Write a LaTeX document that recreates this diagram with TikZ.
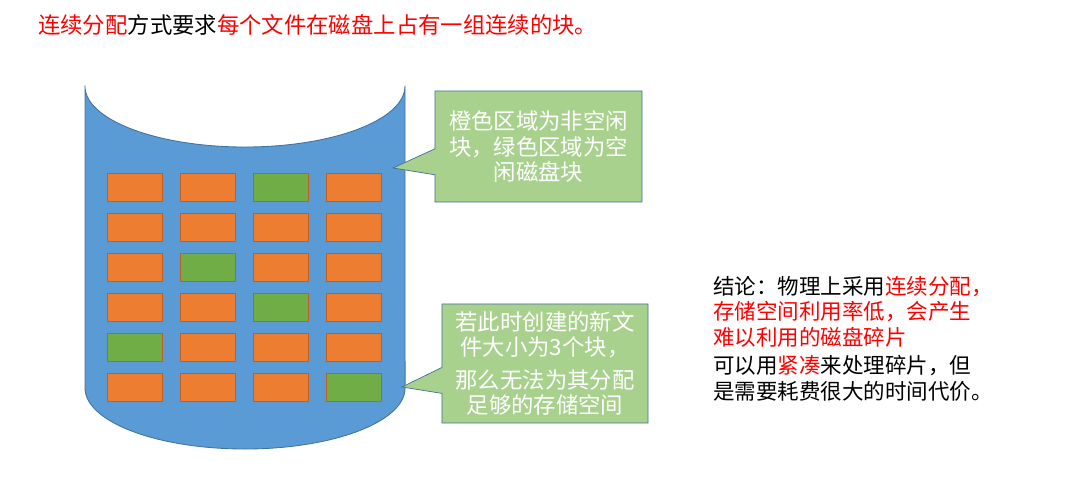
\documentclass[tikz,border=0pt]{standalone}
\usepackage{fontspec}
\setmainfont{Noto Sans CJK SC}
\usetikzlibrary{shapes.callouts}
\definecolor{diskblue}{RGB}{91,155,213}
\definecolor{diskline}{RGB}{65,113,156}
\definecolor{busyorange}{RGB}{237,125,49}
\definecolor{busyline}{RGB}{190,95,35}
\definecolor{freegreen}{RGB}{112,173,71}
\definecolor{notegreen}{RGB}{169,209,142}
\definecolor{hotred}{RGB}{255,0,0}

\tikzset{
  blko/.style={draw=busyline, fill=busyorange, line width=0.6pt, minimum width=1.375cm, minimum height=0.7cm, inner sep=0pt},
  blkg/.style={blko, fill=freegreen},
  note/.style={rectangle callout, draw=diskline, fill=notegreen, line width=0.5pt, text=white, align=center, callout pointer width=0.65cm, font=\fontsize{15.9}{18}\selectfont}
}

\begin{document}
\begin{tikzpicture}[x=0.025cm, y=-0.025cm]
            \useasboundingbox (0,0) rectangle (1081,490);

            % Title
            \node[anchor=west, inner sep=0pt, font=\fontsize{15.9}{18}\selectfont] (title) at (38,25)
              {\textcolor{hotred}{连续分配}方式要求\textcolor{hotred}{每个文件在磁盘上占有一组连续的块。}};

            % Disk
            \draw[diskline, line width=0.6pt, fill=diskblue] (85,86) -- (85,388)
              arc[start angle=180, end angle=360, x radius=4cm, y radius=1.525cm]
              -- (405,86)
              arc[start angle=0, end angle=-180, x radius=4cm, y radius=1.525cm] -- cycle;

            % Blocks
            \foreach \cells [count=\r] in {{o,o,g,o},{o,o,o,o},{o,g,o,o},{o,o,g,o},{g,o,o,o},{o,o,o,g}} {
              \foreach \c [count=\k] in \cells {
                \node[blk\c] (b\r\k) at ({134.5+73*(\k-1)},{187+40*(\r-1)}) {};
              }
            }

            % Notes
            \node[note, minimum width=5.175cm, minimum height=2.775cm, callout absolute pointer={(393,168)}] (legend) at (538.5,146.5)
              {橙色区域为非空闲\\块，绿色区域为空\\闲磁盘块};
            \node[note, minimum width=5.15cm, minimum height=2.975cm, callout absolute pointer={(402,387)}] (newfile) at (545,363.5)
              {若此时创建的新文\\件大小为3个块，\\[5pt]那么无法为其分配\\足够的存储空间};

            % Conclusion
            \node[anchor=north west, inner sep=0pt, align=left, font=\fontsize{15.3}{18.2}\selectfont] (result) at (713,276)
              {结论：物理上采用\textcolor{hotred}{连续分配，}\\
               \textcolor{hotred}{存储空间利用率低，会产生}\\
               \textcolor{hotred}{难以利用的磁盘碎片}\\[2pt]
               可以用\textcolor{hotred}{紧凑}来处理碎片，但\\
               是需要耗费很大的时间代价。};
        \end{tikzpicture}
\end{document}
